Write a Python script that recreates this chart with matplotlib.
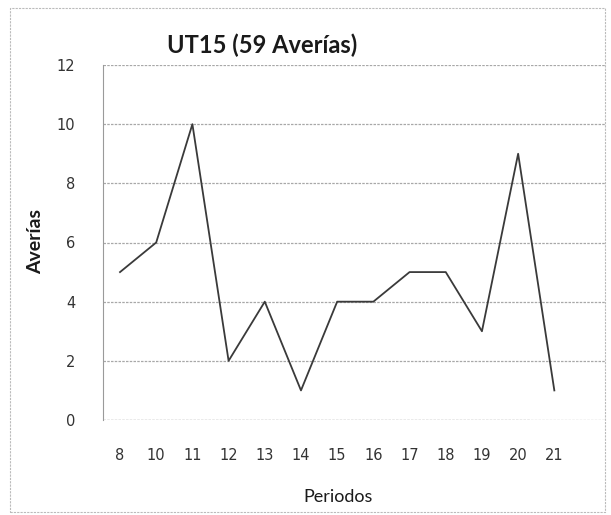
import matplotlib
matplotlib.use("Agg")
import matplotlib.pyplot as plt
from matplotlib.patches import Rectangle

periodos = ["8", "10", "11", "12", "13", "14", "15", "16", "17", "18", "19", "20", "21"]
averias = [5, 6, 10, 2, 4, 1, 4, 4, 5, 5, 3, 9, 1]
yticks = [0, 2, 4, 6, 8, 10, 12]

fig = plt.figure(figsize=(6.11, 5.15), dpi=100)
ax = fig.add_axes([103/611, 1-420/515, (605-103)/611, (420-65)/515])

x = list(range(len(periodos)))
ax.plot(x, averias, color="#3a3a3a", lw=1.3)

ax.set_ylim(0, 12)
ax.set_xlim(-0.47, 13.4)
ax.set_yticks(yticks)
ax.set_yticklabels([str(v) for v in yticks])
ax.set_xticks(x)
ax.set_xticklabels(periodos)
ax.tick_params(axis="both", length=0, labelsize=10.5, colors="#333333")
ax.tick_params(axis="y", pad=20)
ax.tick_params(axis="x", pad=20)
ax.grid(axis="y", color="#a8a8a8", lw=0.9, ls=(0, (2, 1)))
ax.axhline(0, color="#a8a8a8", lw=0.9, ls=(0, (2, 1)), xmax=0.85)
for s in ["top", "right", "bottom"]:
    ax.spines[s].set_visible(False)
ax.spines["left"].set_color("#9a9a9a")
ax.spines["left"].set_linestyle((0, (2, 1)))

fig.text(262/611, 1-45/515, "UT15 (59 Averías)", ha="center", va="center",
         fontsize=17, fontweight="bold", family="Lato", color="#1a1a1a")
fig.text(36/611, 1-242/515, "Averías", ha="center", va="center", rotation=90,
         fontsize=14, fontweight="bold", family="Lato", color="#1a1a1a")
fig.text(338/611, 1-497/515, "Periodos", ha="center", va="center",
         fontsize=13, family="Lato", color="#1a1a1a")

fig.patches.append(Rectangle((10/611, 0.005), 0.99-10/611, 1-8/515-0.005,
                             transform=fig.transFigure, fill=False,
                             edgecolor="#bbbbbb", lw=0.8, ls=(0, (2, 1))))

fig.savefig("out.png", dpi=100)
